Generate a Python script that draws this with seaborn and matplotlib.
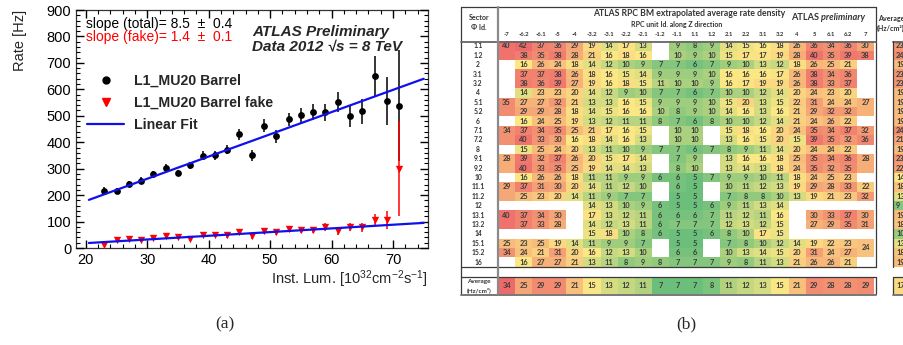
import numpy as np
import pandas as pd
import matplotlib
matplotlib.use('Agg')
import matplotlib.pyplot as plt
import seaborn as sns
from matplotlib.colors import LinearSegmentedColormap
from matplotlib.lines import Line2D

# ---------------- (a) L1_MU20 rate vs instantaneous luminosity ----------------
lumi = [23, 25, 27, 29, 31, 33, 35, 37, 39, 41, 43, 45, 47,
        49, 51, 53, 55, 57, 59, 61, 63, 65, 67, 69, 71]
rate_total = [215, 215, 243, 255, 280, 302, 283, 312, 348, 350, 372, 430, 350,
              462, 423, 487, 502, 515, 513, 553, 500, 517, 650, 555, 538]
err_total = [14, 12, 12, 12, 13, 14, 12, 15, 17, 18, 18, 20, 20,
             24, 25, 25, 28, 30, 33, 37, 42, 48, 75, 90, 210]
rate_fake = [12, 30, 33, 30, 38, 45, 42, 35, 50, 50, 48, 62, 45,
             63, 60, 72, 68, 68, 80, 65, 80, 78, 105, 105, 300]
err_fake = [5, 6, 6, 6, 7, 8, 8, 8, 9, 9, 9, 10, 10,
            11, 11, 12, 12, 12, 14, 14, 16, 18, 22, 35, 180]
fit_x = [20.5, 75.0]
fit_total = [182, 640]
fit_fake = [19, 95]

# ---------------- (b) RPC BM extrapolated average rate density ----------------
z_units = ['-7', '-6.2', '-6.1', '-5', '-4', '-3.2', '-3.1', '-2.2', '-2.1', '-1.2', '-1.1',
           '1.1', '1.2', '2.1', '2.2', '3.1', '3.2', '4', '5', '6.1', '6.2', '7']
sectors = ['1.1', '1.2', '2', '3.1', '3.2', '4', '5.1', '5.2', '6', '7.1', '7.2', '8',
           '9.1', '9.2', '10', '11.1', '11.2', '12', '13.1', '13.2', '14', '15.1', '15.2', '16']
nan = np.nan
density = [
    [40, 42, 37, 36, 29, 19, 14, 17, 13, nan, 9, 8, 9, 14, 15, 16, 18, 26, 36, 34, 36, 30],
    [40, 38, 35, 38, 28, 21, 16, 18, 16, nan, 10, 9, 10, 15, 17, 17, 19, 28, 40, 35, 39, 38],
    [nan, 16, 26, 24, 18, 14, 12, 10, 9, 7, 7, 6, 7, 9, 10, 13, 12, 18, 26, 25, 21, nan],
    [nan, 37, 37, 38, 26, 18, 16, 15, 14, 9, 9, 9, 10, 16, 16, 16, 17, 26, 38, 34, 36, nan],
    [nan, 38, 36, 39, 27, 19, 16, 18, 15, 11, 10, 10, 9, 16, 17, 19, 19, 26, 38, 33, 37, nan],
    [nan, 14, 23, 23, 20, 14, 12, 9, 10, 7, 7, 6, 7, 10, 10, 12, 14, 20, 24, 23, 20, nan],
    [35, 27, 27, 32, 21, 13, 13, 16, 15, 9, 9, 9, 10, 15, 20, 13, 15, 22, 31, 24, 24, 27],
    [35, 29, 29, 28, 18, 14, 15, 16, 16, 10, 8, 9, 10, 14, 16, 13, 16, 21, 29, 32, 32, 27],
    [nan, 16, 24, 25, 19, 13, 12, 11, 11, 8, 7, 6, 8, 10, 10, 12, 14, 21, 24, 26, 22, nan],
    [34, 37, 34, 35, 25, 21, 17, 16, 15, nan, 10, 10, nan, 15, 18, 16, 20, 24, 35, 34, 37, 32],
    [34, 40, 33, 30, 16, 18, 14, 16, 13, nan, 10, 10, nan, 13, 16, 15, 20, 15, 39, 35, 32, 36],
    [nan, 15, 25, 24, 20, 13, 11, 10, 9, 7, 7, 6, 7, 8, 9, 11, 14, 20, 24, 24, 22, nan],
    [28, 39, 32, 37, 26, 20, 15, 17, 14, nan, 7, 9, nan, 13, 16, 16, 18, 25, 35, 34, 36, 28],
    [28, 40, 33, 35, 25, 19, 14, 14, 13, nan, 8, 10, nan, 13, 14, 13, 18, 24, 35, 32, 35, 28],
    [nan, 16, 26, 26, 18, 11, 11, 9, 9, 6, 6, 5, 7, 9, 9, 10, 11, 18, 24, 25, 23, nan],
    [29, 37, 31, 30, 20, 14, 11, 12, 10, nan, 6, 5, nan, 10, 11, 12, 13, 19, 29, 28, 33, 22],
    [29, 25, 23, 20, 14, 11, 9, 7, 7, nan, 5, 5, nan, 7, 8, 8, 10, 13, 19, 21, 23, 32],
    [nan, nan, nan, nan, nan, 14, 13, 10, 9, 6, 5, 5, 6, 9, 11, 13, 14, nan, nan, nan, nan, nan],
    [40, 37, 34, 30, nan, 17, 13, 12, 11, 6, 6, 6, 7, 11, 12, 11, 16, nan, 30, 33, 37, 30],
    [40, 37, 33, 28, nan, 14, 12, 13, 11, 6, 7, 7, 7, 12, 13, 12, 15, nan, 27, 29, 35, 31],
    [nan, nan, nan, nan, nan, 15, 18, 10, 8, 6, 5, 5, 6, 8, 10, 17, 15, nan, nan, nan, nan, nan],
    [25, 23, 25, 19, 14, 11, 9, 9, 7, nan, 5, 5, nan, 7, 8, 10, 12, 14, 19, 22, 23, 24],
    [34, 24, 21, 31, 20, 16, 12, 13, 10, nan, 6, 6, nan, 10, 13, 14, 15, 20, 31, 24, 27, 24],
    [nan, 16, 27, 27, 21, 13, 11, 8, 9, 8, 7, 7, 7, 9, 8, 11, 13, 21, 26, 26, 21, nan],
]
# cells merged with the row above (coloured, no number of their own)
merged_cells = [('1.2', '-7'), ('5.2', '-7'), ('5.2', '7'), ('7.2', '-7'), ('9.2', '-7'),
                ('9.2', '7'), ('11.2', '-7'), ('13.2', '-7')]
# merged two-row cell with the number written between the rows
merged_center = [('15.1', '7')]
avg_z = [34, 25, 29, 29, 21, 15, 13, 12, 11, 7, 7, 7, 8, 11, 12, 13, 15, 21, 29, 28, 28, 29]
avg_sector = [23, 24, 19, 23, 23, 19, 19, 19, 19, 24, 21, 19, 23, 22, 14, 18, 13, 9,
              19, 18, 10, 13, 18, 19]
avg_all = 17

df = pd.DataFrame(density, index=sectors, columns=z_units)
labels = df.map(lambda v: '' if pd.isna(v) else '%d' % v)
for s, z in merged_cells + merged_center:
    labels.loc[s, z] = ''
for s, z in merged_center:
    labels.loc[sectors[sectors.index(s) + 1], z] = ''

sns.set_style('ticks')
plt.rcParams['font.family'] = ['Liberation Sans', 'DejaVu Sans']
plt.rcParams['mathtext.fontset'] = 'custom'
plt.rcParams['mathtext.rm'] = 'Liberation Sans'
plt.rcParams['mathtext.it'] = 'Liberation Sans:italic'
plt.rcParams.update({
    'xtick.direction': 'in', 'ytick.direction': 'in',
    'xtick.top': True, 'ytick.right': True,
    'xtick.major.size': 6, 'ytick.major.size': 6,
    'xtick.minor.size': 3, 'ytick.minor.size': 3,
})

W, H = 904, 345
fig = plt.figure(figsize=(W / 100, H / 100), dpi=100)


def px_axes(x0, y0, x1, y1):
    return fig.add_axes([x0 / W, (H - y1) / H, (x1 - x0) / W, (y1 - y0) / H])


# ============================ panel (a) ============================
ax = px_axes(76, 10, 428, 248)
ax.set_axisbelow(False)
ax.errorbar(lumi, rate_total, yerr=err_total, fmt='none', ecolor='black', elinewidth=1.1, zorder=2)
ax.errorbar(lumi, rate_fake, yerr=err_fake, fmt='none', ecolor='red', elinewidth=1.1, zorder=2)
sns.scatterplot(x=lumi, y=rate_total, ax=ax, color='black', marker='o', s=24, linewidth=0, zorder=3)
sns.scatterplot(x=lumi, y=rate_fake, ax=ax, color='red', marker='v', s=28, linewidth=0, zorder=3)
sns.lineplot(x=fit_x, y=fit_total, ax=ax, color='#1010ee', linewidth=1.6, zorder=4)
sns.lineplot(x=fit_x, y=fit_fake, ax=ax, color='#1010ee', linewidth=1.6, zorder=4)

ax.set_xlim(18.4, 75.7)
ax.set_ylim(0, 900)
ax.set_xticks([20, 30, 40, 50, 60, 70])
ax.set_yticks(range(0, 901, 100))
ax.set_xticks(np.arange(20, 76, 2), minor=True)
ax.set_yticks(range(0, 901, 20), minor=True)
ax.tick_params(which='both', direction='in', top=True, right=True, color='black',
               labelcolor='black', labelsize=10.5, pad=3.5)
ax.tick_params(which='major', length=6, width=1.0)
ax.tick_params(which='minor', length=3, width=0.8)
for sp in ax.spines.values():
    sp.set_linewidth(0.9)
    sp.set_color('#333333')

ax.set_ylabel('Rate [Hz]', fontsize=10.5, loc='top')
ax.yaxis.set_label_coords(-0.14, 1.0)
ax.set_xlabel(r'Inst. Lum. [10$^{32}$cm$^{-2}$s$^{-1}$]', fontsize=10.5, loc='right')
ax.xaxis.set_label_coords(1.0, -0.085)

ax.text(0.028, 0.94, 'slope (total)= 8.5  \u00b1  0.4', transform=ax.transAxes, fontsize=10,
        va='center', color='black')
ax.text(0.028, 0.885, 'slope (fake)= 1.4  \u00b1  0.1', transform=ax.transAxes, fontsize=10,
        va='center', color='red')
ax.text(0.50, 0.908, 'ATLAS Preliminary', transform=ax.transAxes, fontsize=11,
        fontweight='bold', fontstyle='italic', va='center')
ax.text(0.50, 0.845, 'Data 2012 \u221as = 8 TeV', transform=ax.transAxes, fontsize=11,
        fontweight='bold', fontstyle='italic', va='center')

handles = [Line2D([], [], color='black', marker='o', linestyle='none', markersize=5),
           Line2D([], [], color='red', marker='v', linestyle='none', markersize=5.5),
           Line2D([], [], color='#1010ee', linewidth=1.6)]
leg = ax.legend(handles, ['L1_MU20 Barrel', 'L1_MU20 Barrel fake', 'Linear Fit'],
                loc='upper left', bbox_to_anchor=(0.0, 0.778), frameon=False,
                prop={'size': 10.2, 'weight': 'bold'}, handlelength=2.6,
                handletextpad=0.7, labelspacing=0.55, borderaxespad=0.4)

# ============================ panel (b) ============================
cmap = LinearSegmentedColormap.from_list(
    'excel3', [(0.0, '#6BBF7B'), (0.3, '#FCE784'), (1.0, '#EE6A6A')])
tfont = ['Lato', 'DejaVu Sans']
annot_kw = {'fontsize': 5.3, 'fontweight': 'bold', 'color': '#3a3a3a', 'family': tfont}

hx0, hx1 = 498, 874
hy0, hy1 = 41.3, 266.7
hax = px_axes(hx0, hy0, hx1, hy1)
sns.heatmap(df, ax=hax, cmap=cmap, vmin=5, vmax=42, cbar=False,
            annot=labels.values, fmt='', annot_kws=annot_kw, linewidths=0,
            xticklabels=True, yticklabels=True)
for s, z in merged_center:
    r = sectors.index(s)
    c = z_units.index(z)
    hax.text(c + 0.5, r + 1.0, '%d' % df.loc[s, z], ha='center', va='center', **annot_kw)
hax.xaxis.tick_top()
hax.set_xticklabels(z_units, rotation=0, fontsize=4.3, fontweight='bold', family=tfont,
                    color='#333333')
hax.set_yticklabels(sectors, rotation=0, fontsize=4.9, fontweight='bold', family=tfont,
                    color='#333333')
for t in hax.get_yticklabels():
    t.set_ha('center')
hax.tick_params(axis='both', which='both', length=0, top=False, bottom=False,
                left=False, right=False)
hax.tick_params(axis='y', pad=14.4)
hax.tick_params(axis='x', pad=3.3)
hax.set_xlabel('')
hax.set_ylabel('')

# average row along z
aax = px_axes(hx0, 277, hx1, 294)
avg_row = pd.DataFrame([avg_z], columns=z_units)
sns.heatmap(avg_row, ax=aax, cmap=cmap, vmin=min(avg_z), vmax=max(avg_z), cbar=False,
            annot=True, fmt='d', annot_kws=annot_kw, linewidths=0,
            xticklabels=False, yticklabels=False)

# average column per sector (cut by the figure edge)
cax = px_axes(893, hy0, 936, hy1)
avg_col = pd.DataFrame({'avg': avg_sector}, index=sectors)
sns.heatmap(avg_col, ax=cax, cmap=cmap, vmin=min(avg_sector) - 1, vmax=max(avg_sector) + 4,
            cbar=False, annot=True, fmt='d', annot_kws=annot_kw, linewidths=0,
            xticklabels=False, yticklabels=False)
for t in cax.texts:
    t.set_x(0.07)
    t.set_ha('left')

gax = px_axes(893, 277, 936, 294)
sns.heatmap(pd.DataFrame([[avg_all]]), ax=gax, cmap=cmap, vmin=min(avg_z), vmax=max(avg_z),
            cbar=False, annot=True, fmt='d', annot_kws=annot_kw, linewidths=0,
            xticklabels=False, yticklabels=False)
for t in gax.texts:
    t.set_x(0.07)
    t.set_ha('left')

# overlay: frame lines, header texts, captions
ov = fig.add_axes([0, 0, 1, 1], zorder=10)
ov.set_xlim(0, W)
ov.set_ylim(H, 0)
ov.axis('off')
ov.patch.set_visible(False)
lc = '#3a3a3a'
ov.plot([461, 876], [7, 7], color=lc, lw=0.9)
ov.plot([461, 461], [7, 294], color=lc, lw=0.9)
ov.plot([876, 876], [7, 266.7], color=lc, lw=0.9)
ov.plot([876, 876], [277, 294], color=lc, lw=0.9)
ov.plot([461, 876], [42, 42], color='#666666', lw=1.3)
ov.plot([461, 876], [266.7, 266.7], color=lc, lw=0.9)
ov.plot([461, 876], [277, 277], color=lc, lw=0.9)
ov.plot([461, 876], [294.5, 294.5], color='#777777', lw=1.4)
ov.plot([498, 498], [7, 294], color='#8a8a8a', lw=1.6)
ov.plot([893, 910], [42, 42], color='#666666', lw=1.3)
ov.plot([893, 893], [41.3, 266.7], color=lc, lw=0.9)
ov.plot([893, 893], [277, 294], color=lc, lw=0.9)
ov.plot([893, 910], [277, 277], color=lc, lw=0.9)
ov.plot([893, 910], [294.5, 294.5], color='#777777', lw=1.4)

ov.text(689, 13.5, 'ATLAS RPC BM extrapolated average rate density', ha='center', va='center',
        fontsize=6.2, fontweight='bold', family=tfont, color='#333333')
ov.text(677, 24, 'RPC unit Id. along Z direction', ha='center', va='center',
        fontsize=5.0, fontweight='bold', family=tfont, color='#333333')
ov.text(821, 18, 'ATLAS ', ha='right', va='center', fontsize=6.6, fontweight='bold',
        family=tfont, color='#333333')
ov.text(821, 18, 'preliminary', ha='left', va='center', fontsize=6.6, fontweight='bold',
        fontstyle='italic', family=tfont, color='#333333')
ov.text(479, 18, 'Sector', ha='center', va='center', fontsize=5.1, fontweight='bold',
        family=tfont, color='#333333')
ov.text(479, 28, '\u03a6 Id.', ha='center', va='center', fontsize=5.1, fontweight='bold',
        family=tfont, color='#333333')
ov.text(479, 282, 'Average', ha='center', va='center', fontsize=4.6, fontweight='bold',
        family=tfont, color='#333333')
ov.text(479, 290, '(Hz/cm\u00b2)', ha='center', va='center', fontsize=4.6, fontweight='bold',
        family=tfont, color='#333333')
ov.text(878, 18, 'Average', ha='left', va='center', fontsize=5.1, fontweight='bold',
        family=tfont, color='#333333')
ov.text(877, 28, '(Hz/cm\u00b2)', ha='left', va='center', fontsize=5.1, fontweight='bold',
        family=tfont, color='#333333')

ov.text(225, 324, '(a)', ha='center', va='center', fontsize=12.5,
        family=['Liberation Serif', 'DejaVu Serif'])
ov.text(686, 324, '(b)', ha='center', va='center', fontsize=12.5,
        family=['Liberation Serif', 'DejaVu Serif'])

fig.savefig('out.png', dpi=100)
